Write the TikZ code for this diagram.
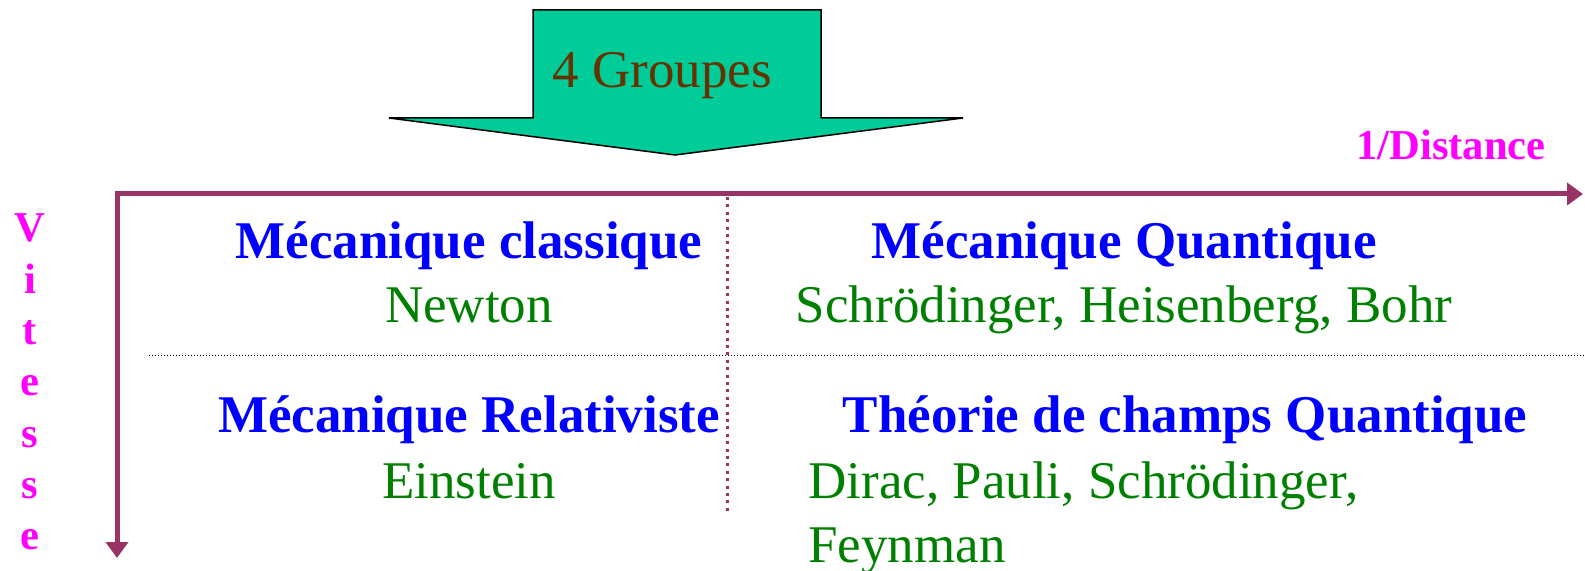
\documentclass[tikz,border=0pt]{standalone}
\usepackage{fontspec}
\setmainfont{Liberation Serif}
\usetikzlibrary{arrows.meta, positioning, calc}
\definecolor{axisplum}{HTML}{993366}
\definecolor{arrowteal}{HTML}{00CC99}
\definecolor{groupbrown}{HTML}{663300}
\definecolor{namegreen}{HTML}{008000}
\definecolor{labelpink}{HTML}{FF00FF}

\begin{document}
\begin{tikzpicture}[
            x=0.5pt, y=-0.5pt,
            title/.style={text=blue, font=\fontsize{26.5}{30}\selectfont\bfseries, inner sep=0pt, anchor=base},
            names/.style={text=namegreen, font=\fontsize{26.5}{30}\selectfont, inner sep=0pt, anchor=base},
            axislabel/.style={text=labelpink, font=\fontsize{21.3}{24}\selectfont\bfseries, inner sep=0pt, anchor=base},
            axis/.style={draw=axisplum, line width=2.5pt, line join=miter},
            >={Triangle[length=8pt, width=11pt]}
        ]
          \useasboundingbox (0,0) rectangle (1585,571);
          % block arrow
          \draw[fill=arrowteal, line width=0.75pt] (533,10) -- (821,10) -- (821,118) -- (963,118) -- (675,155) -- (389,118) -- (533,118) -- cycle;
          \node[text=groupbrown, font=\fontsize{26.5}{30}\selectfont, inner sep=0pt, anchor=base] (groups) at (662,88) {4 Groupes};
          % axes
          \coordinate (origin) at (117,194);
          \coordinate (xend) at (1583,194);
          \coordinate (yend) at (117,558);
          \draw[axis, <->] (yend) -- (origin) -- (xend);
          \node[axislabel] (dist) at (1451,160) {1/Distance};
          \foreach \l [count=\i] in {V,i,t,e,s,s,e}
            \node[axislabel] (v\i) at (30,{242+51.3*(\i-1)}) {\l};
          % separators
          \coordinate (midtop) at (727,197);
          \coordinate (midbot) at (727,515);
          \draw[axisplum, line width=1.5pt, dash pattern=on 1.5pt off 2.2pt] (midtop) -- (midbot);
          \coordinate (rowleft) at (149,356);
          \coordinate (rowright) at (1585,356);
          \draw[black, line width=0.5pt, dash pattern=on 0.6pt off 0.9pt] (rowleft) -- (rowright);
          % quadrants
          \node[title] (classic) at (469,259) {Mécanique classique};
          \node[names] (newton) at (469,323) {Newton};
          \node[title] (quantum) at (1124,259) {Mécanique Quantique};
          \node[names] (qnames) at (1124,323) {Schrödinger, Heisenberg, Bohr};
          \node[title] (relat) at (469,433) {Mécanique Relativiste};
          \node[names] (einstein) at (469,498) {Einstein};
          \node[title] (qft) at (1185,433) {Théorie de champs Quantique};
          \node[names, anchor=base west] (qftnames) at (808,498) {Dirac, Pauli, Schrödinger,};
          \node[names, anchor=base west] (feynman) at (808,562) {Feynman};
        \end{tikzpicture}
\end{document}
